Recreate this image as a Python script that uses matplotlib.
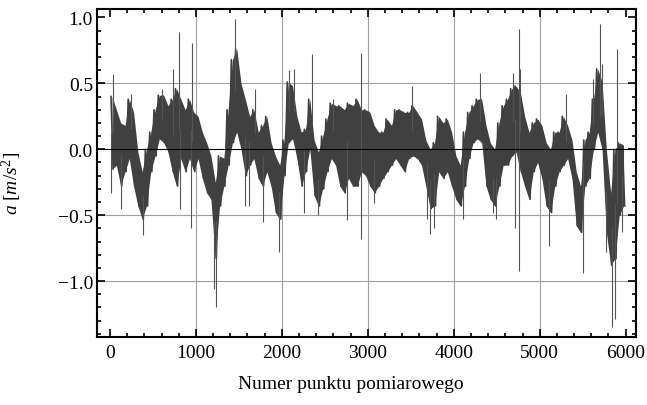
import numpy as np
import matplotlib
matplotlib.use('Agg')
import matplotlib.pyplot as plt
from matplotlib.ticker import MultipleLocator

# upper / lower edge of the dense signal band, one pair per 50 samples
bin_width = 50
core_hi = [0.40, 0.30, 0.20, 0.18, 0.38, 0.28, -0.02, -0.17, 0.00, 0.13,
           0.30, 0.41, 0.41, 0.33, 0.38, 0.46, 0.38, 0.30, 0.38, 0.28,
           0.25, 0.13, 0.05, -0.05, -0.25, -0.05, -0.07, 0.30, 0.68, 0.76,
           0.50, 0.38, 0.25, 0.30, 0.13, 0.18, 0.25, 0.05, -0.05, -0.12,
           0.07, 0.51, 0.48, 0.25, 0.13, 0.15, 0.38, 0.07, -0.02, 0.10,
           0.23, 0.35, 0.33, 0.33, 0.30, 0.35, 0.33, 0.38, 0.30, 0.30,
           0.28, 0.18, 0.13, 0.13, 0.23, 0.18, 0.30, 0.30, 0.28, 0.28,
           0.33, 0.28, 0.23, 0.07, 0.00, 0.05, 0.25, 0.20, 0.23, 0.13,
           -0.05, -0.12, 0.13, 0.28, 0.33, 0.38, 0.38, 0.18, 0.05, 0.00,
           0.20, 0.33, 0.38, 0.46, 0.48, 0.43, 0.25, 0.13, 0.20, 0.23,
           0.18, 0.05, 0.00, 0.13, 0.13, 0.25, 0.18, 0.07, -0.17, -0.28,
           0.07, 0.13, 0.38, 0.61, 0.51, 0.00, -0.33, 0.00, 0.05, 0.03]
core_lo = [-0.15, -0.12, -0.28, -0.17, -0.07, -0.28, -0.43, -0.53, -0.43, -0.17,
           -0.05, 0.08, 0.05, -0.02, -0.17, -0.28, -0.07, -0.17, -0.07, -0.17,
           -0.07, -0.22, -0.33, -0.38, -0.83, -0.43, -0.28, -0.12, 0.05, 0.13,
           0.00, -0.20, -0.12, -0.07, -0.22, -0.28, -0.17, -0.28, -0.48, -0.53,
           -0.20, 0.05, 0.08, -0.07, -0.28, -0.17, 0.00, -0.35, -0.43, -0.30,
           -0.17, -0.07, -0.12, -0.28, -0.33, -0.22, -0.28, -0.28, -0.17, -0.20,
           -0.28, -0.33, -0.28, -0.22, -0.17, -0.12, -0.07, -0.12, -0.17, -0.07,
           -0.05, -0.07, -0.12, -0.28, -0.45, -0.43, -0.17, -0.22, -0.17, -0.28,
           -0.38, -0.43, -0.28, -0.07, 0.05, 0.08, 0.05, -0.28, -0.38, -0.43,
           -0.28, -0.12, -0.12, -0.05, -0.02, -0.17, -0.28, -0.38, -0.17, -0.10,
           -0.22, -0.43, -0.48, -0.28, -0.17, -0.12, -0.07, -0.22, -0.58, -0.63,
           -0.28, -0.22, 0.00, 0.13, 0.00, -0.63, -0.88, -0.83, -0.50, -0.43]

# isolated spikes sticking out of the band
spike_x = [30, 10, 130, 240, 380, 600, 730, 800, 820, 960, 940, 1232, 1210,
           1453, 1570, 1620, 1690, 1780, 1970, 2080, 2140, 2260, 2345, 2420,
           2590, 2760, 2920, 2915, 3070, 3510, 3690, 3725, 3775, 4110, 4300,
           4460, 4490, 4690, 4710, 4760, 4760, 4770, 5110, 5300, 5500, 5620,
           5705, 5730, 5770, 5840, 5880, 5895, 5960]
spike_y = [0.57, -0.33, -0.45, 0.42, -0.65, 0.46, 0.61, 0.89, -0.45, 0.81, -0.60, -1.20, -1.06,
           0.99, -0.43, -0.43, 0.46, -0.55, -0.78, 0.60, 0.61, -0.48, 0.72, -0.50,
           0.38, -0.54, 0.73, -0.68, -0.41, 0.48, -0.53, -0.64, -0.60, -0.53, 0.58,
           -0.48, -0.53, 0.58, -0.60, 0.91, -0.92, 0.61, -0.73, 0.42, -0.94, 0.53,
           0.95, 0.65, -0.78, -1.35, -1.29, 0.76, -0.63]

plt.rcParams['font.family'] = 'Liberation Serif'
plt.rcParams['mathtext.fontset'] = 'custom'
plt.rcParams['mathtext.rm'] = 'Liberation Serif'
plt.rcParams['mathtext.it'] = 'Liberation Serif:italic'

def main():
    fig = plt.figure(figsize=(6.47, 4.06), dpi=100)
    ax = fig.add_axes([0.150, 0.1675, 0.833, 0.8075])

    hi = np.array(core_hi)
    lo = np.array(core_lo)
    start = np.arange(len(hi)) * bin_width
    sig = '#404040'

    # dense signal drawn as an up/down trace through each bin
    zx = np.ravel(np.column_stack([start + 12.5, start + 37.5]))
    zy = np.ravel(np.column_stack([hi, lo]))
    ax.plot(zx, zy, color=sig, lw=1.2, zorder=2)
    ax.fill_between(start + 25, lo, hi, color=sig, lw=0, zorder=2)

    sx = np.array(spike_x)
    idx = np.minimum(sx // bin_width, len(hi) - 1)
    base = (hi[idx] + lo[idx]) / 2
    ax.vlines(sx, base, spike_y, color='#555555', lw=0.8, zorder=2)

    for xv in range(1000, 6000, 1000):
        ax.axvline(xv, color='#a0a0a0', lw=0.8, zorder=1)
    for yv in [0.5, -0.5, -1.0]:
        ax.axhline(yv, color='#a0a0a0', lw=0.8, zorder=1)
    ax.axhline(0, color='black', lw=0.8, zorder=3)

    ax.set_xlim(-150, 6120)
    ax.set_ylim(-1.424, 1.063)
    ax.xaxis.set_major_locator(MultipleLocator(1000))
    ax.xaxis.set_minor_locator(MultipleLocator(200))
    ax.yaxis.set_minor_locator(MultipleLocator(0.1))
    ax.set_yticks([-1.0, -0.5, 0.0, 0.5, 1.0])
    ax.set_yticklabels(['\u22121.0', '\u22120.5', '0.0', '0.5', '1.0'])
    ax.tick_params(which='both', direction='in', top=True, right=True,
                   labelsize=14, width=1.2)
    ax.tick_params(which='major', length=6)
    ax.tick_params(which='minor', length=3)
    ax.tick_params(axis='y', pad=3)
    ax.tick_params(axis='x', pad=5)
    for s in ax.spines.values():
        s.set_linewidth(1.5)

    ax.set_xlabel('Numer punktu pomiarowego', fontsize=14)
    ax.xaxis.set_label_coords(0.47, -0.115)
    ax.set_ylabel(r'$a\ [m/s^2]$', fontsize=14)
    ax.yaxis.set_label_coords(-0.135, 0.47)

    fig.savefig('out.png', dpi=100)

if __name__ == "__main__":
    main()
